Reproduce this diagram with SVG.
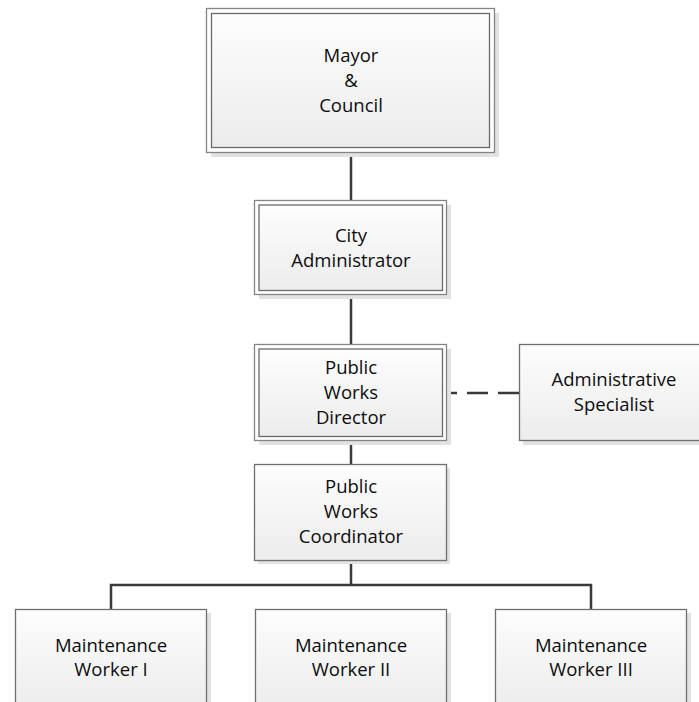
<svg xmlns="http://www.w3.org/2000/svg" width="699" height="702" viewBox="0 0 699 702">
  <defs>
    <linearGradient id="boxFill" x1="0" y1="0" x2="0" y2="1">
      <stop offset="0" stop-color="#fdfdfd"/>
      <stop offset="1" stop-color="#ececec"/>
    </linearGradient>
  </defs>
  <style>
    .shadow { fill: #e2e2e2; stroke: none; }
    .outer { fill: #ffffff; stroke: #858585; stroke-width: 1.3; }
    .inner { fill: url(#boxFill); stroke: #6a6a6a; stroke-width: 1.3; }
    .box { fill: url(#boxFill); stroke: #6f6f6f; stroke-width: 1.3; }
    .label { font-family: "Open Sans", "Liberation Sans", sans-serif; font-size: 18.5px; fill: #0d0d0d; text-anchor: middle; }
    .link { fill: none; stroke: #3a3a3a; stroke-width: 2.5; }
    .dashed { stroke-dasharray: 21 10; }
  </style>

  <rect width="699" height="702" fill="#ffffff"/>

  <!-- reporting lines -->
  <g id="connectors">
    <line class="link" x1="351" y1="152" x2="351" y2="201"/>
    <line class="link" x1="351" y1="295" x2="351" y2="345"/>
    <line class="link" x1="351" y1="441" x2="351" y2="464"/>
    <line class="link" x1="351" y1="561" x2="351" y2="585"/>
    <polyline class="link" points="111,609 111,585 591,585 591,609"/>
    <line class="link dashed" x1="519" y1="393" x2="447" y2="393"/>
  </g>

  <g id="mayor-council">
    <rect class="shadow" x="211" y="13" width="288" height="144"/>
    <rect class="outer" x="206.5" y="8.5" width="288" height="144"/>
    <rect class="inner" x="211.5" y="13.5" width="278" height="134"/>
    <text class="label" x="351" y="62">Mayor</text>
    <text class="label" x="351" y="87">&amp;</text>
    <text class="label" x="351" y="112">Council</text>
  </g>

  <g id="city-administrator">
    <rect class="shadow" x="259" y="205" width="192" height="94"/>
    <rect class="outer" x="254.5" y="200.5" width="192" height="94"/>
    <rect class="inner" x="259" y="205" width="183.5" height="85.5"/>
    <text class="label" x="351" y="242">City</text>
    <text class="label" x="351" y="267">Administrator</text>
  </g>

  <g id="public-works-director">
    <rect class="shadow" x="259" y="349" width="192" height="96"/>
    <rect class="outer" x="254.5" y="344.5" width="192" height="96"/>
    <rect class="inner" x="259" y="349" width="183.5" height="87.5"/>
    <text class="label" x="351" y="374">Public</text>
    <text class="label" x="351" y="399">Works</text>
    <text class="label" x="351" y="424">Director</text>
  </g>

  <g id="administrative-specialist">
    <rect class="shadow" x="523" y="349" width="192" height="96"/>
    <rect class="box" x="519.5" y="344.5" width="192" height="96"/>
    <text class="label" x="614" y="386">Administrative</text>
    <text class="label" x="614" y="411">Specialist</text>
  </g>

  <g id="public-works-coordinator">
    <rect class="shadow" x="258" y="468" width="192" height="96"/>
    <rect class="box" x="254.5" y="464.5" width="192" height="96"/>
    <text class="label" x="351" y="493">Public</text>
    <text class="label" x="351" y="518">Works</text>
    <text class="label" x="351" y="543">Coordinator</text>
  </g>

  <g id="maintenance-worker-1">
    <rect class="shadow" x="19" y="613" width="192" height="96"/>
    <rect class="box" x="15.5" y="609.5" width="191" height="100"/>
    <text class="label" x="111" y="651.5">Maintenance</text>
    <text class="label" x="111" y="676">Worker I</text>
  </g>

  <g id="maintenance-worker-2">
    <rect class="shadow" x="259" y="613" width="192" height="96"/>
    <rect class="box" x="255.5" y="609.5" width="191" height="100"/>
    <text class="label" x="351" y="651.5">Maintenance</text>
    <text class="label" x="351" y="676">Worker II</text>
  </g>

  <g id="maintenance-worker-3">
    <rect class="shadow" x="499" y="613" width="192" height="96"/>
    <rect class="box" x="495.5" y="609.5" width="191" height="100"/>
    <text class="label" x="591" y="651.5">Maintenance</text>
    <text class="label" x="591" y="676">Worker III</text>
  </g>
</svg>
